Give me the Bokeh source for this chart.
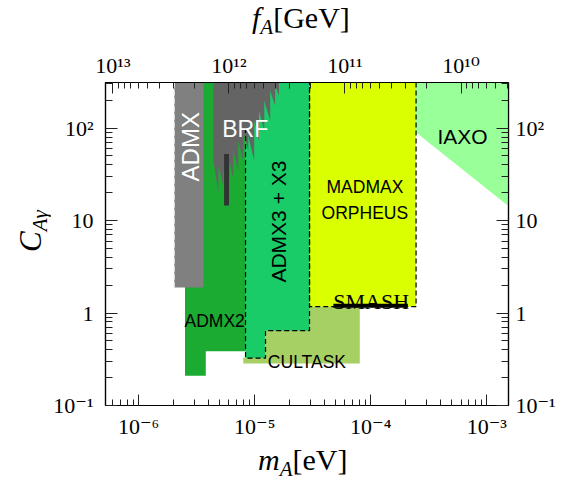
import math
from bokeh.plotting import figure
from bokeh.models import Range1d, LogAxis, FixedTicker, Label, Div
from bokeh.layouts import column, row
from bokeh.embed import file_html
from bokeh.resources import INLINE

# ---------------- data ----------------
X_RANGE = (5.18e-7, 1.54e-3)          # m_A [eV]
Y_RANGE = (0.1, 311.0)                # C_{A gamma}
FA_CONST = 6.0e6                      # f_A [GeV] * m_A [eV]
TOP_CLIP = 400.0                      # regions extend past the top of the frame

x_major = [1e-6, 1e-5, 1e-4, 1e-3]
x_major_labels = ["10⁻⁶", "10⁻⁵", "10⁻⁴", "10⁻³"]
y_major = [0.1, 1.0, 10.0, 100.0]
y_major_labels = ["10⁻¹", "1", "10", "10²"]
fa_major = [1e13, 1e12, 1e11, 1e10]
fa_major_labels = ["10¹³", "10¹²", "10¹¹", "10¹⁰"]

# ADMX (gray)
admx_m = [2.03e-6, 3.62e-6, 3.62e-6, 2.03e-6]
admx_c = [1.89, 1.89, TOP_CLIP, TOP_CLIP]

# ADMX2 (green)
admx2_m = [2.51e-6, 2.51e-6, 3.79e-6, 3.79e-6, 1.0e-5, 1.0e-5]
admx2_c = [TOP_CLIP, 0.21, 0.21, 0.385, 0.385, TOP_CLIP]

# ADMX3 + X3 (light green, dashed outline)
admx3_m = [8.34e-6, 8.34e-6, 1.24e-5, 1.24e-5, 2.97e-5, 2.97e-5]
admx3_c = [TOP_CLIP, 0.326, 0.326, 0.644, 0.644, TOP_CLIP]
admx3_edge_top = 100.0

# BRF (dark gray, jagged lower edge)
brf_m = [4.41e-6, 4.41e-6, 4.87e-6, 4.87e-6, 5.37e-6, 5.37e-6, 6.05e-6, 6.05e-6,
         6.54e-6, 6.54e-6, 7.22e-6, 7.22e-6, 7.97e-6, 7.97e-6, 8.80e-6, 8.80e-6,
         9.90e-6, 9.90e-6, 1.09e-5, 1.09e-5, 1.21e-5, 1.21e-5, 1.36e-5, 1.36e-5,
         1.50e-5, 1.50e-5, 1.62e-5, 1.62e-5]
brf_c = [TOP_CLIP, 44.3, 20.0, 39.1, 23.8, 34.5, 30.5, 44.3,
         28.3, 56.9, 34.5, 72.9, 44.3, 93.5, 56.9, 82.6,
         44.3, 120.0, 72.9, 154.0, 93.5, 197.0, 120.0, 253.0,
         174.0, 290.0, 223.0, TOP_CLIP]

# dark strip inside BRF
strip_m = [5.45e-6, 6.01e-6]
strip_c = [14.5, 52.3]

# CULTASK (olive)
cultask_m = [7.97e-6, 8.05e-5, 8.05e-5, 1.24e-5, 1.24e-5, 7.97e-6]
cultask_c = [0.285, 0.285, 1.25, 1.25, 0.33, 0.33]

# MADMAX / ORPHEUS (yellow)
madmax_m = [2.97e-5, 2.46e-4]
madmax_c = [1.17, TOP_CLIP]

# IAXO (light green, sloped lower edge)
iaxo_m = [2.46e-4, 2.46e-4, 2.0e-3, 2.0e-3]
iaxo_c = [TOP_CLIP, 89.6, 11.0, TOP_CLIP]

# SMASH band
smash_m = [4.77e-5, 2.09e-4]
smash_c = [1.2, 1.2]

# ---------------- figure ----------------
p = figure(x_axis_type="log", y_axis_type="log",
           x_range=Range1d(*X_RANGE), y_range=Range1d(*Y_RANGE),
           width=508, height=399,
           min_border_left=52, min_border_right=50,
           min_border_top=38, min_border_bottom=38,
           output_backend="svg", toolbar_location=None)
p.grid.visible = False
p.outline_line_color = "black"
p.outline_line_width = 1.2
p.background_fill_color = "white"
p.border_fill_color = "white"

p.patch(cultask_m, cultask_c, fill_color="#a6d064", line_color=None)
p.patch(admx2_m, admx2_c, fill_color="#1bab33", line_color=None)
p.patch(admx3_m, admx3_c, fill_color="#1acc68", line_color=None)
p.patch(brf_m, brf_c, fill_color="#646464", line_color=None)
p.quad(left=[strip_m[0]], right=[strip_m[1]], bottom=[strip_c[0]], top=[strip_c[1]],
       fill_color="#333333", line_color=None)
p.patch(admx_m, admx_c, fill_color="#808080", line_color=None)
p.line([admx_m[0], admx_m[0]], [admx_c[0], TOP_CLIP], line_color="#e0e0e0",
       line_dash="5 3", line_width=1.2)
p.quad(left=[madmax_m[0]], right=[madmax_m[1]], bottom=[madmax_c[0]], top=[madmax_c[1]],
       fill_color="#d9ff00", line_color=None)
p.patch(iaxo_m, iaxo_c, fill_color="#99ff99", line_color=None)

p.line([admx3_m[0]] + admx3_m[1:], [admx3_edge_top] + admx3_c[1:],
       line_color="black", line_dash="5 3", line_width=1.2)
p.line([madmax_m[0], madmax_m[0], madmax_m[1], madmax_m[1]],
       [TOP_CLIP, madmax_c[0], madmax_c[0], TOP_CLIP],
       line_color="black", line_dash="5 3", line_width=1.2)
p.line(smash_m, smash_c, line_color="black", line_width=4)

# ---------------- axes ----------------
SERIF_TICK = "'Liberation Serif', 'DejaVu Serif'"

def minor_log(lo_exp, hi_exp):
    return [k * 10.0 ** n for n in range(lo_exp, hi_exp) for k in range(2, 10)]

def style(ax, major_in, minor_in, standoff):
    ax.axis_line_color = "black"
    ax.axis_line_width = 1.2
    ax.major_tick_in = major_in
    ax.major_tick_out = 0
    ax.minor_tick_in = minor_in
    ax.minor_tick_out = 0
    ax.major_tick_line_color = "#222222"
    ax.minor_tick_line_color = "#222222"
    ax.major_label_text_font = SERIF_TICK
    ax.major_label_text_font_size = "22px"
    ax.major_label_text_color = "black"
    ax.major_label_standoff = standoff

xb = p.xaxis[0]
xb.ticker = FixedTicker(ticks=x_major, minor_ticks=minor_log(-7, -2))
xb.major_label_overrides = dict(zip(x_major, x_major_labels))
style(xb, 11, 6, 8)

yl = p.yaxis[0]
yl.ticker = FixedTicker(ticks=y_major, minor_ticks=minor_log(-1, 3))
yl.major_label_overrides = dict(zip(y_major, y_major_labels))
style(yl, 12, 7, 12)

yr = LogAxis(ticker=FixedTicker(ticks=y_major, minor_ticks=minor_log(-1, 3)))
yr.major_label_overrides = dict(zip(y_major, y_major_labels))
style(yr, 12, 7, 7)
p.add_layout(yr, "right")

top_ticks = [FA_CONST / f for f in fa_major]
top_minor = [FA_CONST / (k * 10.0 ** n) for n in range(9, 14) for k in range(2, 10)]
xt = LogAxis(ticker=FixedTicker(ticks=top_ticks, minor_ticks=top_minor))
xt.major_label_overrides = dict(zip(top_ticks, fa_major_labels))
style(xt, 11, 6, 5)
p.add_layout(xt, "above")

# ---------------- region labels ----------------
SANS = "Liberation Sans"
SERIF = "Liberation Serif"
def dlabel(x, y, text, size, color="black", angle=0.0, baseline="alphabetic", font=SANS):
    p.add_layout(Label(x=x, y=y, text=text, text_font=font, text_font_size=size,
                       text_color=color, text_align="center", text_baseline=baseline,
                       angle=angle))

dlabel(2.82e-6, 62.8, "ADMX", "24px", "white", math.pi / 2, "middle")
dlabel(8.29e-6, 97.5, "BRF", "23px", "white")
dlabel(1.61e-5, 9.75, "ADMX3 + X3", "21px", "black", math.pi / 2, "middle")
dlabel(8.91e-5, 22.8, "MADMAX", "17.5px")
dlabel(8.91e-5, 12.2, "ORPHEUS", "17.5px")
dlabel(6.18e-4, 81.1, "IAXO", "21px")
dlabel(4.52e-6, 0.826, "ADMX2", "17.5px")
dlabel(2.82e-5, 0.292, "CULTASK", "17.5px")
dlabel(1.01e-4, 1.33, "SMASH", "22px", font=SERIF)

# ---------------- axis titles as HTML ----------------
FONT = "font-family:'Liberation Serif',serif; color:black; white-space:nowrap; line-height:30px;"
SUB = "font-style:italic; font-size:21px; position:relative; top:6px;"

top_html = ("<div style='position:relative; width:558px; height:44px;'>"
            "<div style=\"position:absolute; left:252px; top:3px; font-size:30px; " + FONT + "\">"
            "<i>f</i><span style='" + SUB + "'>A</span>[GeV]</div></div>")
bottom_html = ("<div style='position:relative; width:558px; height:38px;'>"
               "<div style=\"position:absolute; left:258px; top:2px; font-size:30px; " + FONT + "\">"
               "<i>m</i><span style='" + SUB + "'>A</span>[eV]</div></div>")
left_html = ("<div style='position:relative; width:50px; height:399px;'>"
             "<div style=\"position:absolute; left:16px; top:208px; font-size:31px; "
             "transform:rotate(-90deg); transform-origin:0 0; " + FONT + "\">"
             "<i>C</i><span style='" + SUB + "'>Aγ</span></div></div>")

top_div = Div(text=top_html, width=558, height=44, margin=0)
left_div = Div(text=left_html, width=50, height=399, margin=0)
bottom_div = Div(text=bottom_html, width=558, height=38, margin=0)

layout = column(top_div, row(left_div, p, spacing=0), bottom_div, spacing=0)

open("out.html", "w").write(file_html(layout, INLINE))
